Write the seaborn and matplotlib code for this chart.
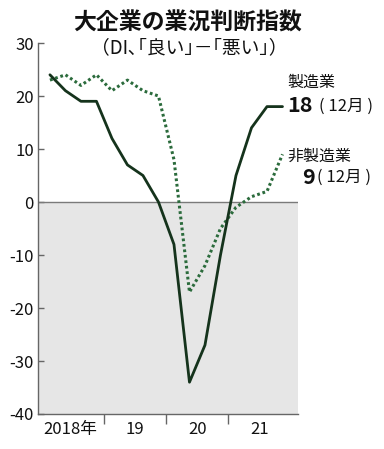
import matplotlib
matplotlib.use("Agg")
import matplotlib.pyplot as plt
import seaborn as sns
import pandas as pd
import numpy as np

# Data (quarterly, 2018 Q1 .. 2021 Q4)
quarters = list(range(16))
manufacturing = [24, 21, 19, 19, 12, 7, 5, 0, -8, -34, -27, -10, 5, 14, 18, 18]
non_manufacturing = [23, 24, 22, 24, 21, 23, 21, 20, 8, -17, -12, -5, -1, 1, 2, 9]
year_labels = ["2018年", "19", "20", "21"]
y_ticks = [30, 20, 10, 0, -10, -20, -30, -40]

sns.set_theme(style="white")
plt.rcParams['font.family'] = ['Noto Sans CJK JP', 'DejaVu Sans']

fig = plt.figure(figsize=(3.84, 4.49), dpi=100)
ax = fig.add_axes([38/384, 1 - 414/449, (298-38)/384, (414-43)/449])

df = pd.DataFrame({"q": quarters * 2,
                   "v": manufacturing + non_manufacturing,
                   "s": ["製造業"] * 16 + ["非製造業"] * 16})

ax.axhspan(-40, 0, color="#e6e6e6", lw=0, zorder=0)
ax.axhline(0, color="#7a7a7a", lw=1, zorder=1)

sns.lineplot(data=df[df.s == "非製造業"], x="q", y="v", ax=ax, color="#2b6b3c",
             lw=2.2, linestyle=(0, (0.9, 0.9)), legend=False, zorder=3)
sns.lineplot(data=df[df.s == "製造業"], x="q", y="v", ax=ax, color="#15331c",
             lw=2.0, legend=False, zorder=4)

ax.set_xlim(-0.77, 16.0)
ax.set_ylim(-40, 30)
ax.set_xlabel("")
ax.set_ylabel("")

ax.set_yticks(y_ticks)
ax.set_yticklabels([str(t) for t in y_ticks], fontsize=12, color="#111")
ax.tick_params(axis="y", direction="in", length=4, width=1, color="#666", pad=3, left=True)

ax.set_xticks([3.5, 7.5, 11.5])
ax.set_xticklabels([])
ax.tick_params(axis="x", which="major", direction="out", length=7, width=1, color="#666", bottom=True)
ax.set_xticks([1.3, 5.5, 9.5, 13.5], minor=True)
ax.set_xticklabels(year_labels, minor=True, fontsize=12, color="#111")
ax.tick_params(axis="x", which="minor", length=0, pad=5)

for s in ["top", "right"]:
    ax.spines[s].set_visible(False)
for s in ["left", "bottom"]:
    ax.spines[s].set_color("#666")
    ax.spines[s].set_linewidth(1)

# Titles
fig.text(188/384, 1 - 23/449, "大企業の業況判断指数", ha="center", va="center",
         fontsize=16.5, fontweight="bold", color="#111")
fig.text(189/384, 1 - 48/449, "（DI､｢良い｣－｢悪い｣）", ha="center", va="center",
         fontsize=13.5, color="#111")

# Series labels
fig.text(287/384, 1 - 82/449, "製造業", ha="left", va="center", fontsize=11.5, color="#111")
fig.text(287/384, 1 - 106/449, "18", ha="left", va="center", fontsize=15.5,
         fontweight="bold", color="#111")
fig.text(319/384, 1 - 106/449, "( 12月 )", ha="left", va="center", fontsize=12, color="#111")

fig.text(287/384, 1 - 156/449, "非製造業", ha="left", va="center", fontsize=11.5, color="#111")
fig.text(302/384, 1 - 177/449, "9", ha="left", va="center", fontsize=15.5,
         fontweight="bold", color="#111")
fig.text(317/384, 1 - 177/449, "( 12月 )", ha="left", va="center", fontsize=12, color="#111")

fig.savefig("out.png", dpi=100)
